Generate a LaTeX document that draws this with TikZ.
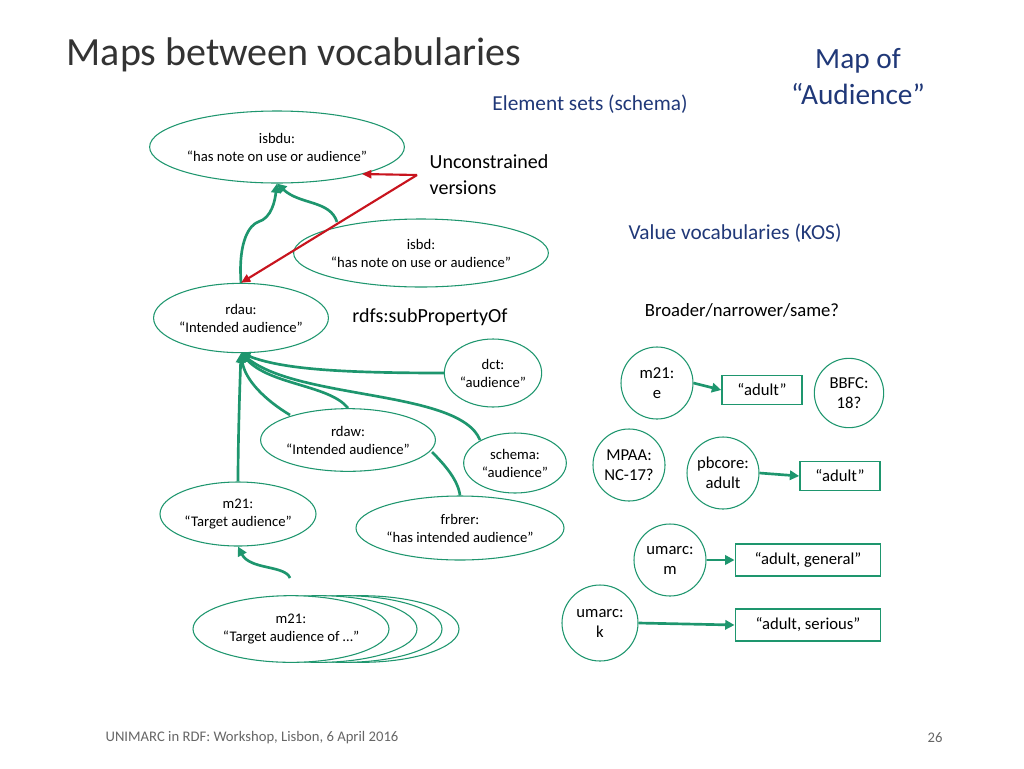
\documentclass[tikz,border=0pt]{standalone}
\usepackage{fontspec}
\setmainfont{Carlito}
\usetikzlibrary{shapes.geometric,arrows.meta}
\definecolor{gr}{RGB}{30,150,110}
\definecolor{navy}{RGB}{32,56,120}
\definecolor{rd}{RGB}{200,20,30}
\tikzset{x=0.75pt,y=-0.75pt,
 el/.style={ellipse,draw=gr,thick,fill=white,inner sep=0pt,align=center,font=\fontsize{11}{13.5}\selectfont},
 ci/.style={circle,draw=gr,thick,fill=white,inner sep=0pt,align=center,font=\fontsize{12.5}{15}\selectfont,minimum size=54pt},
 bx/.style={draw=gr,very thick,inner sep=0pt,minimum height=22pt,font=\fontsize{12.5}{15}\selectfont},
 ga/.style={draw=gr,line width=2pt,-{Triangle[length=7pt,width=7pt]}},
 gl/.style={draw=gr,line width=2pt},
 ra/.style={draw=rd,line width=1.6pt,-{Triangle[length=7pt,width=6pt]}}}
\begin{document}
\begin{tikzpicture}
\useasboundingbox (0,0) rectangle (1024,768);
\node[anchor=west,text=black!80,font=\fontsize{30}{36}\selectfont] (title) at (62,55) {Maps between vocabularies};
\node[align=center,text=navy,font=\fontsize{22}{27}\selectfont] (map) at (858,77) {Map of\\“Audience”};
\node[text=navy,font=\fontsize{16}{19}\selectfont] (es) at (590,104) {Element sets (schema)};
\node[anchor=west,align=left,font=\fontsize{15}{19.5}\selectfont] (unc) at (425,175) {Unconstrained\\versions};
\node[text=navy,font=\fontsize{16}{19}\selectfont] (vv) at (735,233) {Value vocabularies (KOS)};
\node[font=\fontsize{15}{18}\selectfont] (rdfs) at (430,317) {rdfs:subPropertyOf};
\node[font=\fontsize{14}{17}\selectfont] (bns) at (742,310) {Broader/narrower/same?};
\node[text=black!60,font=\fontsize{11}{13}\selectfont] (foot) at (252,738) {UNIMARC in RDF: Workshop, Lisbon, 6 April 2016};
\node[text=black!60,font=\fontsize{11}{13}\selectfont] (pg) at (935,738) {26};

\node[el,minimum width=236\pgflinewidth*0+177pt,minimum height=54pt] (isbdu) at (277,147) {isbdu:\\“has note on use or audience”};
\node[el,minimum width=180pt,minimum height=51pt] (isbd) at (421,253) {isbd:\\“has note on use or audience”};
\node[el,minimum width=129pt,minimum height=52pt] (rdau) at (241,318) {rdau:\\“Intended audience”};
\node[el,minimum width=73pt,minimum height=51pt] (dct) at (493,373) {dct:\\“audience”};
\node[el,minimum width=130pt,minimum height=47pt] (rdaw) at (348,440) {rdaw:\\“Intended audience”};
\node[el,minimum width=77pt,minimum height=45pt] (schema) at (515,463) {schema:\\“audience”};
\node[el,minimum width=117pt,minimum height=48pt] (m21t) at (238,514) {m21:\\“Target audience”};
\node[el,minimum width=156pt,minimum height=48pt] (frbrer) at (460,528) {frbrer:\\“has intended audience”};
\node[el,minimum width=147pt,minimum height=50pt] (s3) at (361,629) {};
\node[el,minimum width=147pt,minimum height=50pt] (s2) at (344,629) {};
\node[el,minimum width=147pt,minimum height=50pt] (s1) at (319,629) {};
\node[el,minimum width=147pt,minimum height=50pt] (m21o) at (291,629) {m21:\\“Target audience of …”};

\draw[ga] (rdau.north) .. controls (238,240) and (250,225) .. (258,222) .. controls (272,218) and (275,200) .. (isbdu.south);
\draw[ga] (337,222) .. controls (330,200) and (300,205) .. (isbdu.south);
\draw[ra] (417,175) -- (362,174);
\draw[ra] (417,175) -- (rdau.north);

\draw[ga] (dct.west) .. controls (330,373) and (280,368) .. (rdau.south);
\draw[ga] (rdaw.north) .. controls (330,385) and (270,385) .. (rdau.south);
\draw[ga] (290,415) .. controls (265,400) and (245,380) .. (rdau.south);
\draw[ga] (480,440) .. controls (460,390) and (300,400) .. (rdau.south);
\draw[ga] (m21t.north) .. controls (238,440) and (240,380) .. (rdau.south);
\draw[gl] (frbrer.north) .. controls (458,480) and (445,465) .. (432,452);
\draw[ga] (290,578) .. controls (285,565) and (250,570) .. (m21t.south);

\node[ci] (m21e) at (657,383) {m21:\\e};
\node[ci,minimum size=52pt] (bbfc) at (849,393) {BBFC:\\18?};
\node[ci] (mpaa) at (629,465) {MPAA:\\NC-17?};
\node[ci] (pbc) at (723,473) {pbcore:\\adult};
\node[ci] (um) at (670,560) {umarc:\\m};
\node[ci,minimum size=57pt] (uk) at (600,623) {umarc:\\k};
\node[bx,minimum width=60pt] (a1) at (762,390) {“adult”};
\node[bx,minimum width=60pt] (a2) at (840,476) {“adult”};
\node[bx,minimum width=109pt,minimum height=24pt] (a3) at (808,560) {“adult, general”};
\node[bx,minimum width=109pt,minimum height=24pt] (a4) at (808,625) {“adult, serious”};
\draw[ga] (m21e.east) -- (a1.west);
\draw[ga] (pbc.east) -- (a2.west);
\draw[ga] (um.east) -- (a3.west);
\draw[ga] (uk.east) -- (a4.west);
\end{tikzpicture}
\end{document}
